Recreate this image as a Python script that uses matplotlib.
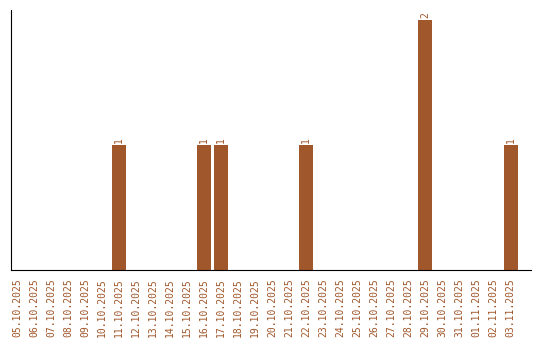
import matplotlib
matplotlib.use("Agg")
import matplotlib.pyplot as plt

dates = ["05.10.2025", "06.10.2025", "07.10.2025", "08.10.2025", "09.10.2025",
         "10.10.2025", "11.10.2025", "12.10.2025", "13.10.2025", "14.10.2025",
         "15.10.2025", "16.10.2025", "17.10.2025", "18.10.2025", "19.10.2025",
         "20.10.2025", "21.10.2025", "22.10.2025", "23.10.2025", "24.10.2025",
         "25.10.2025", "26.10.2025", "27.10.2025", "28.10.2025", "29.10.2025",
         "30.10.2025", "31.10.2025", "01.11.2025", "02.11.2025", "03.11.2025"]
counts = [0, 0, 0, 0, 0, 0, 1, 0, 0, 0, 0, 1, 1, 0, 0, 0, 0, 1, 0, 0,
          0, 0, 0, 0, 2, 0, 0, 0, 0, 1]

color = "#A0572B"
fig = plt.figure(figsize=(5.4, 3.4), dpi=100)
ax = fig.add_axes([11/540, 70/340, 520/540, 260/340])
x = list(range(len(dates)))
bars = ax.bar(x, counts, width=0.82, color=color)
for xi, v in zip(x, counts):
    if v > 0:
        ax.text(xi, v + 0.015, str(v), rotation=90, ha="center", va="bottom",
                color=color, fontsize=7, family="DejaVu Sans Mono")
ax.set_xlim(-0.35, 30.2)
ax.set_ylim(0, 2.08)
ax.set_xticks(x)
ax.set_xticklabels(dates, rotation=90, color=color, fontsize=7, family="DejaVu Sans Mono")
ax.tick_params(axis="x", length=0, pad=6)
ax.set_yticks([])
ax.spines["top"].set_visible(False)
ax.spines["right"].set_visible(False)
fig.savefig("out.png", dpi=100)
